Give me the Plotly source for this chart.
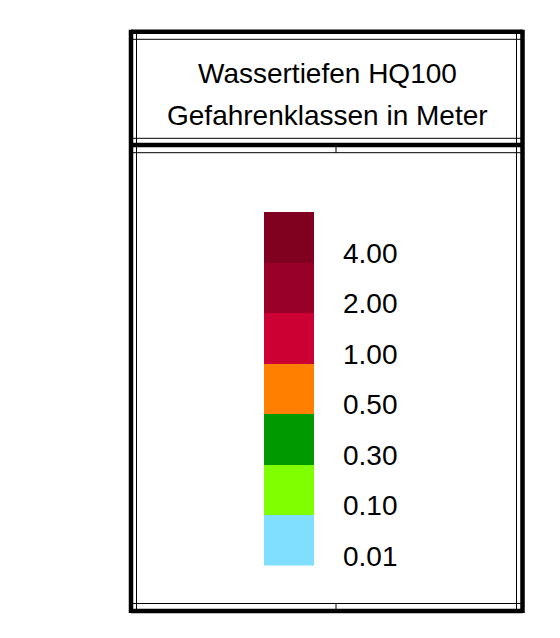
import plotly.graph_objects as go

# ---- data ----
classes = ["0.01", "0.10", "0.30", "0.50", "1.00", "2.00", "4.00"]   # bottom -> top
colors = ["#80DFFF", "#80FF00", "#009900", "#FF8000", "#CC0033", "#990029", "#800020"]
block_size = [1, 1, 1, 1, 1, 1, 1]
title_lines = ["Wassertiefen HQ100", "Gefahrenklassen in Meter"]

# page body has an 8px margin; figure sized to fill the rest of the window
OFF = 8
W, H = 560 - OFF, 638 - OFF
FONT = "Liberation Sans, Arial, sans-serif"

def px(x):
    return (x - OFF) / W

def py(y):
    return 1 - (y - OFF) / H

fig = go.Figure()
for lab, col, s in zip(classes, colors, block_size):
    fig.add_trace(go.Bar(x=["k"], y=[s], marker=dict(color=col, line=dict(width=0)),
                         name=lab, showlegend=False, hoverinfo="name"))

shapes = []
def line(x0, y0, x1, y1, w):
    shapes.append(dict(type="line", xref="paper", yref="paper",
                       x0=px(x0), y0=py(y0), x1=px(x1), y1=py(y1),
                       line=dict(color="black", width=w)))

# outer thick frame
L, R, T, B = 131, 522.5, 31.8, 611
line(L, T, R, T, 4.5)
line(L, B, R, B, 4.5)
line(L, T - 2, L, B + 2, 4.5)
line(R, T - 2, R, B + 2, 4.5)
# inner thin lines
line(136.5, T, 136.5, B, 1)
line(516.5, T, 516.5, B, 1)
line(L, 39.3, R, 39.3, 1)
line(L, 603.5, R, 603.5, 1)
# header separator
line(L, 138.3, R, 138.3, 1)
line(L, 145, R, 145, 4.5)
line(L, 152.7, R, 152.7, 1)
# small ticks
line(336, 145, 336, 152.7, 1)
line(336, 603.5, 336, 611, 1)

annotations = []
for i, t in enumerate(title_lines):
    annotations.append(dict(text=t, xref="paper", yref="paper", x=px(327), y=py([73.5, 115.5][i]),
                            xanchor="center", yanchor="middle", showarrow=False,
                            font=dict(family=FONT, size=28, color="black")))
for i, lab in enumerate(classes):
    annotations.append(dict(text=lab, xref="paper", yref="y", x=px(341), y=i + 0.18,
                            xanchor="left", yanchor="middle", showarrow=False,
                            font=dict(family=FONT, size=28, color="black")))

fig.update_layout(
    width=W, height=H, margin=dict(l=0, r=0, t=0, b=0),
    paper_bgcolor="white", plot_bgcolor="white",
    barmode="stack", bargap=0,
    xaxis=dict(domain=[px(264), px(314.3)], visible=False, fixedrange=True),
    yaxis=dict(domain=[py(565.5), py(211.7)], range=[0, 7], visible=False, fixedrange=True),
    shapes=shapes, annotations=annotations,
)
fig.write_html("out.html")
